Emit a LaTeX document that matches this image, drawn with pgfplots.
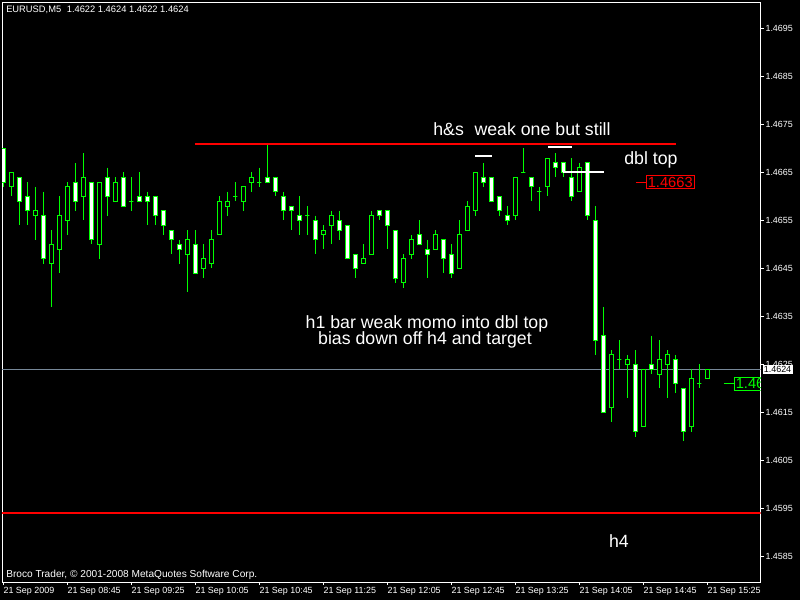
\documentclass[border=0pt]{standalone}
\usepackage{pgfplots}
\pgfplotsset{compat=1.18}
\usepackage{pgfplotstable}
\usepackage{fontspec}
\setmainfont{Liberation Sans}
\definecolor{mtgreen}{RGB}{0,255,0}
\definecolor{mtred}{RGB}{255,0,0}
\definecolor{bidgray}{RGB}{119,136,153}

\pgfplotstableread{
i o h l c
0 1.4670 1.4670 1.4662 1.4663
1 1.4662 1.4665 1.4660 1.4665
2 1.4664 1.4664 1.4654 1.4659
3 1.4660 1.4663 1.4654 1.4657
4 1.4656 1.4662 1.4651 1.4657
5 1.4656 1.4661 1.4646 1.4647
6 1.4646 1.4653 1.4637 1.4650
7 1.4649 1.4660 1.4644 1.4656
8 1.4655 1.4663 1.4652 1.4662
9 1.4663 1.4667 1.4657 1.4659
10 1.4660 1.4669 1.4655 1.4664
11 1.4663 1.4663 1.4650 1.4651
12 1.4650 1.4663 1.4647 1.4663
13 1.4664 1.4666 1.4656 1.4660
14 1.4659 1.4664 1.4659 1.4663
15 1.4664 1.4665 1.4658 1.4658
16 1.4659 1.4664 1.4657 1.4659
17 1.4660 1.4665 1.4659 1.4659
18 1.4660 1.4661 1.4654 1.4659
19 1.4660 1.4660 1.4654 1.4656
20 1.4657 1.4657 1.4652 1.4654
21 1.4653 1.4653 1.4648 1.4651
22 1.4650 1.4651 1.4646 1.4649
23 1.4648 1.4653 1.4640 1.4651
24 1.4650 1.4653 1.4644 1.4644
25 1.4645 1.4650 1.4643 1.4647
26 1.4646 1.4653 1.4645 1.4651
27 1.4652 1.4660 1.4652 1.4659
28 1.4658 1.4661 1.4656 1.4659
29 1.4660 1.4663 1.4659 1.4660
30 1.4659 1.4662 1.4657 1.4662
31 1.4663 1.4665 1.4661 1.4664
32 1.4663 1.4666 1.4662 1.4663
33 1.4664 1.4671 1.4663 1.4663
34 1.4664 1.4664 1.4660 1.4661
35 1.4660 1.4661 1.4655 1.4657
36 1.4658 1.4658 1.4653 1.4657
37 1.4656 1.4660 1.4652 1.4655
38 1.4656 1.4658 1.4652 1.4656
39 1.4655 1.4656 1.4648 1.4651
40 1.4652 1.4654 1.4649 1.4653
41 1.4654 1.4657 1.4650 1.4656
42 1.4655 1.4657 1.4651 1.4653
43 1.4654 1.4654 1.4647 1.4647
44 1.4648 1.4648 1.4643 1.4645
45 1.4646 1.4650 1.4646 1.4647
46 1.4648 1.4657 1.4648 1.4656
47 1.4657 1.4657 1.4655 1.4656
48 1.4657 1.4657 1.4649 1.4654
49 1.4653 1.4653 1.4642 1.4643
50 1.4642 1.4648 1.4641 1.4647
51 1.4648 1.4652 1.4647 1.4651
52 1.4652 1.4655 1.4650 1.4650
53 1.4649 1.4651 1.4643 1.4648
54 1.4649 1.4653 1.4649 1.4652
55 1.4651 1.4651 1.4644 1.4647
56 1.4648 1.4650 1.4643 1.4644
57 1.4645 1.4655 1.4645 1.4652
58 1.4653 1.4659 1.4653 1.4658
59 1.4657 1.4665 1.4656 1.4665
60 1.4664 1.4667 1.4662 1.4663
61 1.4664 1.4664 1.4659 1.4659
62 1.4660 1.4660 1.4656 1.4657
63 1.4656 1.4658 1.4654 1.4655
64 1.4656 1.4664 1.4655 1.4664
65 1.4665 1.4670 1.4665 1.4665
66 1.4664 1.4664 1.4659 1.4662
67 1.4661 1.4662 1.4657 1.4661
68 1.4662 1.4668 1.4660 1.4668
69 1.4667 1.4669 1.4664 1.4666
70 1.4667 1.4667 1.4664 1.4665
71 1.4664 1.4668 1.4659 1.4660
72 1.4661 1.4667 1.4661 1.4666
73 1.4667 1.4667 1.4655 1.4656
74 1.4655 1.4658 1.4627 1.4630
75 1.4631 1.4637 1.4615 1.4615
76 1.4616 1.4628 1.4613 1.4627
77 1.4626 1.4630 1.4624 1.4626
78 1.4625 1.4627 1.4618 1.4626
79 1.4625 1.4628 1.4610 1.4611
80 1.4612 1.4624 1.4612 1.4624
81 1.4625 1.4631 1.4623 1.4624
82 1.4623 1.4630 1.4620 1.4626
83 1.4625 1.4628 1.4618 1.4627
84 1.4626 1.4627 1.4619 1.4621
85 1.4620 1.4620 1.4609 1.4611
86 1.4612 1.4624 1.4611 1.4622
87 1.4621 1.4625 1.4620 1.4621
88 1.4622 1.4624 1.4622 1.4624
}\candles

\begin{document}
\begin{tikzpicture}
\useasboundingbox (0,0) rectangle (600pt,450pt);
\fill[black] (0,0) rectangle (600pt,450pt);
\begin{axis}[
  at={(1.5pt,13.5pt)}, anchor=south west,
  width=569pt, height=434.8pt, scale only axis,
  xmin=-0.1625, xmax=94.675,
  ymin=1.457969, ymax=1.470046,
  clip mode=individual,
  axis line style={white, line width=0.75pt},
  xtick pos=bottom, ytick pos=right,
  yticklabel pos=right,
  tick align=outside,
  major tick length=2.25pt,
  tick style={white, line width=0.75pt},
  scaled y ticks=false,
  xtick={0,8,16,24,32,40,48,56,64,72,80,88},
  xticklabels={21 Sep 2009,21 Sep 08:45,21 Sep 09:25,21 Sep 10:05,21 Sep 10:45,21 Sep 11:25,21 Sep 12:05,21 Sep 12:45,21 Sep 13:25,21 Sep 14:05,21 Sep 14:45,21 Sep 15:25},
  ytick={1.4585,1.4595,1.4605,1.4615,1.4625,1.4635,1.4645,1.4655,1.4665,1.4675,1.4685,1.4695},
  yticklabels={1.4585,1.4595,1.4605,1.4615,1.4625,1.4635,1.4645,1.4655,1.4665,1.4675,1.4685,1.4695},
  xticklabel style={font=\fontsize{6.7}{7}\selectfont, text=white, anchor=north west, inner sep=0pt, yshift=-1.2pt},
  yticklabel style={font=\fontsize{6.7}{7}\selectfont, text=white, anchor=west, inner sep=0pt, xshift=1.2pt},
]
% bid line
\addplot[bidgray, line width=0.75pt] coordinates {(-1,1.4624) (96,1.4624)};
% candles
\pgfplotsinvokeforeach{0,...,88}{
  \pgfplotstablegetelem{#1}{o}\of\candles \edef\co{\pgfplotsretval}
  \pgfplotstablegetelem{#1}{h}\of\candles \edef\ch{\pgfplotsretval}
  \pgfplotstablegetelem{#1}{l}\of\candles \edef\cl{\pgfplotsretval}
  \pgfplotstablegetelem{#1}{c}\of\candles \edef\cc{\pgfplotsretval}
  \ifdim\cc pt<\co pt \def\cf{white}\else\def\cf{black}\fi
  \pgfmathsetmacro\xl{#1-0.25}
  \pgfmathsetmacro\xr{#1+0.25}
  \edef\tmp{\noexpand\addplot[mtgreen, line width=0.75pt] coordinates {(#1,\ch) (#1,\cl)};
    \noexpand\addplot[draw=mtgreen, fill=\cf, line width=0.75pt] coordinates {(\xl,\co) (\xr,\co) (\xr,\cc) (\xl,\cc) (\xl,\co)};}
  \tmp
}
% horizontal levels
\addplot[mtred, line width=1.5pt] coordinates {(23.96,1.4671) (84.09,1.4671)};
\addplot[mtred, line width=1.5pt] coordinates {(-1,1.4594) (96,1.4594)};
% white marks
\addplot[white, line width=1.5pt] coordinates {(58.97,1.46685) (61.1,1.46685)};
\addplot[white, line width=1.5pt] coordinates {(68.1,1.46704) (71.1,1.46704)};
\addplot[white, line width=1.5pt] coordinates {(69.96,1.4665) (75.1,1.4665)};
% price label dashes
\addplot[mtred, line width=0.75pt] coordinates {(79.09,1.4663) (80.34,1.4663)};
\addplot[mtgreen, line width=0.75pt] coordinates {(90.09,1.4621) (91.34,1.4621)};
\node[anchor=west, draw=mtred, text=mtred, line width=0.75pt, inner sep=1pt, font=\fontsize{11}{12}\selectfont] at (axis cs:80.34,1.4663) {1.4663};
\begin{scope}
\clip (rel axis cs:0,0) rectangle (rel axis cs:1,1);
\node[anchor=west, draw=mtgreen, text=mtgreen, line width=0.75pt, inner sep=1pt, font=\fontsize{11}{12}\selectfont] at (axis cs:91.34,1.4621) {1.4621};
\end{scope}
% annotations
\node[text=white, font=\fontsize{13.3}{14}\selectfont] at (axis cs:64.84,1.46741) {h\&s\hspace{0.6em}weak one but still};
\node[text=white, font=\fontsize{13.3}{14}\selectfont] at (axis cs:80.96,1.46676) {dbl top};
\node[text=white, font=\fontsize{13.3}{14}\selectfont] at (axis cs:52.96,1.463344) {h1 bar weak momo into dbl top};
\node[text=white, font=\fontsize{13.3}{14}\selectfont] at (axis cs:52.71,1.463010) {bias down off h4 and target};
\node[text=white, font=\fontsize{13.3}{14}\selectfont] at (axis cs:76.96,1.458823) {h4};
\coordinate (bid) at (axis cs:94.675,1.4624);
\end{axis}
\node[anchor=west, fill=white, text=black, inner sep=1pt, font=\fontsize{6.7}{7}\selectfont] at ([xshift=1.2pt]bid) {1.4624};
\node[anchor=west, text=white, inner sep=0pt, font=\fontsize{7}{8}\selectfont] at (4.5pt,442.5pt) {EURUSD,M5\hspace{0.6em}1.4622 1.4624 1.4622 1.4624};
\node[anchor=west, text=white, inner sep=0pt, font=\fontsize{7.6}{8.5}\selectfont] at (4.5pt,18.75pt) {Broco Trader, © 2001-2008 MetaQuotes Software Corp.};
\end{tikzpicture}
\end{document}
